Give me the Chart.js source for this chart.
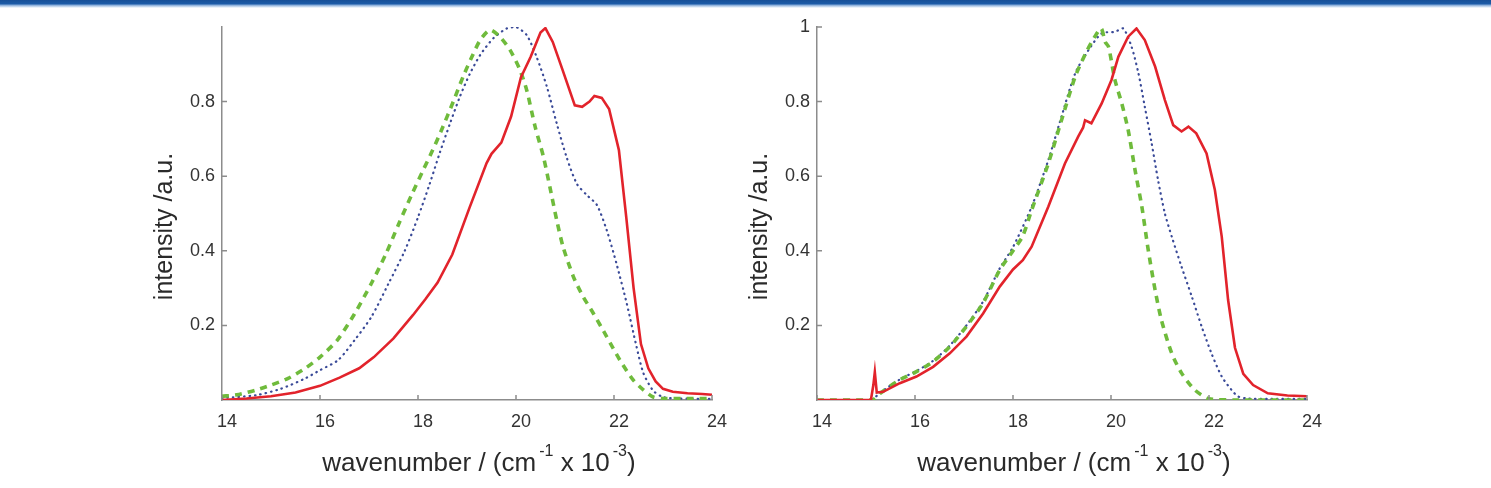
<!DOCTYPE html>
<html><head><meta charset="utf-8">
<script src="https://cdn.jsdelivr.net/npm/chart.js@4/dist/chart.umd.min.js"></script>
<style>
html,body{margin:0;padding:0;background:#fff;width:1491px;height:488px;overflow:hidden;}
#bar{position:absolute;left:0;top:0;width:1491px;height:8px;background:linear-gradient(#174f97 0,#1d5ca8 4px,#7fa6d6 5px,#d6e4f4 7px,#fff 8px);}
#c1{position:absolute;left:0;top:0;}
#c2{position:absolute;left:745px;top:0;}
</style></head>
<body>
<div id="bar"></div>
<canvas id="c1" width="745" height="488"></canvas>
<canvas id="c2" width="746" height="488"></canvas>
<script>
// ---- data (wavenumber x 10^-3 cm^-1, normalized intensity) ----
const xTicks = [14, 16, 18, 20, 22, 24];
const yTicksLeft = [0.2, 0.4, 0.6, 0.8];
const yTicksRight = [0.2, 0.4, 0.6, 0.8, 1];

// left panel
const leftRedX = [14,14.5,15,15.5,16,16.4,16.8,17.1,17.5,17.9,18.15,18.4,18.7,19.05,19.4,19.5,19.7,19.9,20.1,20.3,20.5,20.6,20.75,20.95,21.2,21.35,21.5,21.6,21.75,21.9,22.1,22.25,22.4,22.55,22.7,22.85,23.0,23.2,23.5,23.8,24];
const leftRedY = [0.0,0.004,0.01,0.02,0.038,0.06,0.085,0.115,0.165,0.228,0.27,0.315,0.39,0.515,0.635,0.66,0.69,0.76,0.865,0.92,0.985,0.997,0.96,0.885,0.79,0.786,0.80,0.815,0.81,0.78,0.67,0.49,0.30,0.15,0.085,0.05,0.03,0.022,0.018,0.016,0.014];
const leftGreenX = [14,14.3,14.7,15,15.35,15.7,16.0,16.35,16.7,17.05,17.35,17.6,17.87,18.1,18.3,18.5,18.72,18.93,19.1,19.27,19.47,19.67,19.88,20.08,20.22,20.39,20.56,20.69,20.83,20.96,21.17,21.37,21.58,21.85,22.12,22.39,22.6,22.8,23.0,23.5,24];
const leftGreenY = [0.01,0.014,0.027,0.04,0.058,0.085,0.115,0.16,0.23,0.313,0.393,0.47,0.55,0.615,0.67,0.73,0.80,0.87,0.92,0.965,0.992,0.974,0.938,0.885,0.83,0.733,0.652,0.572,0.483,0.411,0.331,0.277,0.232,0.17,0.107,0.054,0.027,0.008,0.004,0.004,0.004];
const leftBlueX = [14,14.7,15.2,15.7,16.0,16.37,16.71,17.05,17.39,17.73,18.0,18.24,18.45,18.65,18.86,19.06,19.27,19.54,19.81,20.0,20.22,20.42,20.63,20.83,21.03,21.24,21.44,21.65,21.85,22.05,22.26,22.46,22.6,22.8,23.0,23.3,24];
const leftBlueY = [0.005,0.013,0.03,0.058,0.08,0.107,0.161,0.223,0.31,0.40,0.49,0.58,0.665,0.74,0.815,0.875,0.925,0.97,0.996,1.0,0.978,0.92,0.84,0.742,0.652,0.58,0.55,0.523,0.456,0.366,0.259,0.143,0.072,0.025,0.008,0.004,0.003];

// right panel
const rightRedX = [14,15.1,15.15,15.18,15.22,15.35,15.69,16.03,16.37,16.71,17.05,17.39,17.73,18.0,18.2,18.38,18.72,19.06,19.33,19.43,19.47,19.6,19.81,20.01,20.15,20.35,20.52,20.69,20.9,21.1,21.27,21.44,21.58,21.74,21.95,22.12,22.26,22.39,22.53,22.7,22.9,23.2,23.6,24];
const rightRedY = [0,0,0.04,0.075,0.02,0.022,0.045,0.063,0.089,0.125,0.17,0.232,0.304,0.35,0.375,0.411,0.518,0.634,0.706,0.73,0.75,0.742,0.795,0.858,0.92,0.974,0.996,0.965,0.894,0.804,0.737,0.72,0.733,0.715,0.661,0.563,0.438,0.268,0.14,0.07,0.04,0.018,0.012,0.01];
const rightGreenX = [14,15.1,15.15,15.29,15.69,16.03,16.37,16.71,17.05,17.39,17.73,18.0,18.2,18.38,18.72,18.99,19.27,19.5,19.67,19.8,19.88,19.95,20.08,20.22,20.35,20.49,20.63,20.76,20.9,21.03,21.24,21.44,21.71,21.99,22.5,23,24];
const rightGreenY = [0,0,0,0.018,0.054,0.076,0.103,0.143,0.197,0.26,0.349,0.40,0.44,0.509,0.634,0.75,0.867,0.934,0.974,0.996,0.96,0.947,0.858,0.795,0.724,0.617,0.518,0.402,0.295,0.214,0.125,0.072,0.027,0.004,0,0,0];
const rightBlueX = [14,15.1,15.29,15.69,16.03,16.37,16.71,17.05,17.39,17.73,18.0,18.38,18.72,18.99,19.27,19.54,19.81,20.08,20.25,20.42,20.56,20.69,20.83,20.96,21.1,21.24,21.44,21.65,21.85,22.05,22.26,22.46,22.6,22.8,23.2,24];
const rightBlueY = [0,0,0.02,0.055,0.078,0.105,0.146,0.2,0.264,0.353,0.41,0.518,0.643,0.76,0.876,0.938,0.983,0.987,0.996,0.947,0.876,0.786,0.688,0.59,0.50,0.438,0.357,0.277,0.197,0.125,0.063,0.027,0.009,0.004,0.003,0.003];

// axis titles (x title: pieces with superscripts)
const xTitleParts = [['wavenumber / (cm', false], ['-1', true], [' x 10', false], ['-3', true], [')', false]];
const yTitle = 'intensity /a.u.';

// ---- styling ----
const FONT = '"Liberation Sans", Arial, Helvetica, sans-serif';
const AXIS = '#8c8c8c';
const TXT = '#2a2a2a';
const RED = '#e2232b', GREEN = '#6fbb3c', BLUE = '#3a4a98';

function pts(xs, ys){ return xs.map((x,i)=>({x:x, y:ys[i]})); }

const inwardTicks = {
  id:'inwardTicks',
  afterDatasetsDraw(chart, args, opts){
    const {ctx, chartArea:a, scales:{x, y}} = chart;
    ctx.save();
    ctx.strokeStyle = AXIS; ctx.lineWidth = 1.5;
    ctx.beginPath();
    opts.xt.forEach(v=>{ const px = x.getPixelForValue(v); ctx.moveTo(px, a.bottom); ctx.lineTo(px, a.bottom-5); });
    opts.yt.forEach(v=>{ const py = y.getPixelForValue(v); ctx.moveTo(a.left, py); ctx.lineTo(a.left+5, py); });
    ctx.stroke();
    ctx.restore();
  }
};

const axisTitles = {
  id:'axisTitles',
  afterDraw(chart){
    const {ctx, chartArea:a} = chart;
    ctx.save();
    ctx.fillStyle = TXT;
    ctx.textBaseline = 'alphabetic';
    // x title
    const big = '26px ' + FONT, small = '16px ' + FONT;
    let total = 0;
    xTitleParts.forEach(([t, sup]) => { ctx.font = sup ? small : big; total += ctx.measureText(t).width + (sup ? 3 : 0); });
    let cx = (a.left + a.right) / 2 + 12 - total / 2;
    const base = a.bottom + 71;
    ctx.textAlign = 'left';
    xTitleParts.forEach(([t, sup]) => {
      ctx.font = sup ? small : big;
      if (sup) { ctx.fillText(t, cx + 3, base - 15); cx += ctx.measureText(t).width + 3; }
      else { ctx.fillText(t, cx, base); cx += ctx.measureText(t).width; }
    });
    // y title
    ctx.font = '25px ' + FONT;
    ctx.translate(a.left - 57, (a.top + a.bottom) / 2 + 13);
    ctx.rotate(-Math.PI / 2);
    ctx.textAlign = 'center';
    ctx.textBaseline = 'middle';
    ctx.fillText(yTitle, 0, 0);
    ctx.restore();
  }
};

function makeChart(id, red, green, blue, yShown, padLeft, padRight){
  const ds = (label, data, color, extra) => Object.assign({
    label, data, borderColor: color, backgroundColor: color, pointRadius: 0,
    showLine: true, fill: false, tension: 0
  }, extra);
  return new Chart(document.getElementById(id), {
    type: 'scatter',
    data: { datasets: [
      ds('red', red, RED, {borderWidth: 2.6, order: 0}),
      ds('green', green, GREEN, {borderWidth: 3.6, borderDash: [7, 6], order: 1, tension: 0.25}),
      ds('blue', blue, BLUE, {borderWidth: 2.2, borderDash: [0.5, 5], borderCapStyle: 'round', order: 2, tension: 0.25})
    ]},
    plugins: [inwardTicks, axisTitles],
    options: {
      responsive: false, animation: false, devicePixelRatio: 1,
      layout: { padding: { left: padLeft, right: padRight, top: 27, bottom: 0 } },
      plugins: { legend: {display: false}, tooltip: {enabled: false},
                 inwardTicks: { xt: xTicks, yt: yShown } },
      scales: {
        x: {
          type: 'linear', min: 14, max: 24,
          afterFit: s => { s.height = 88; },
          afterBuildTicks: s => { s.ticks = xTicks.map(v => ({value: v})); },
          grid: { display: true, drawOnChartArea: false, drawTicks: false },
          border: { display: true, color: AXIS, width: 1.5 },
          ticks: { color: '#333', font: {family: FONT, size: 18}, padding: 11, labelOffset: 5, maxRotation: 0,
                   callback: v => String(v) },
          title: { display: false }
        },
        y: {
          type: 'linear', min: 0, max: 1,
          afterFit: s => { s.width = 72; },
          afterBuildTicks: s => { s.ticks = yShown.map(v => ({value: v})); },
          grid: { display: true, drawOnChartArea: false, drawTicks: false },
          border: { display: true, color: AXIS, width: 1.5 },
          ticks: { color: '#333', font: {family: FONT, size: 18}, padding: 7,
                   callback: v => (v >= 0.999 ? '1' : String(+v.toFixed(1))) },
          title: { display: false }
        }
      }
    }
  });
}

makeChart('c1', pts(leftRedX, leftRedY), pts(leftGreenX, leftGreenY), pts(leftBlueX, leftBlueY), yTicksLeft, 150, 33);
makeChart('c2', pts(rightRedX, rightRedY), pts(rightGreenX, rightGreenY), pts(rightBlueX, rightBlueY), yTicksRight, 0, 184);
</script>
</body></html>
